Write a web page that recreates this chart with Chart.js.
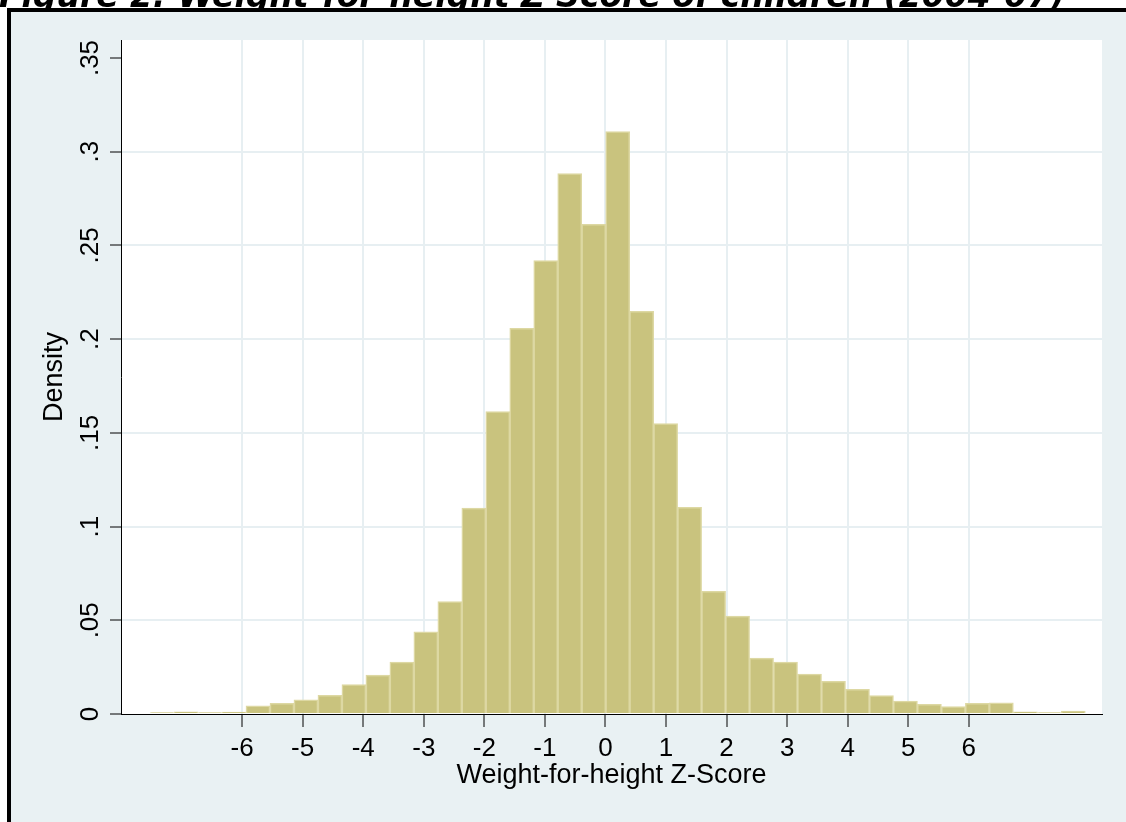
<!DOCTYPE html>
<html lang="en">
<head>
<meta charset="UTF-8">
<title>Weight-for-height Z-Score of children</title>
<script src="https://cdn.jsdelivr.net/npm/chart.js@4.4.0/dist/chart.umd.min.js"></script>
<style>
  html, body { margin: 0; padding: 0; background: #fff; overflow: hidden; }
  #wrap { width: 1126px; height: 822px; }
</style>
</head>
<body>
<div id="wrap"><canvas id="histo" width="1126" height="822"></canvas></div>
<script>
// histogram bins, stata style: first edge + bin width
const binStart = -7.52;
const binWidth = 0.396;
const density = [
  0.0008, 0.0012, 0.0008, 0.0010, 0.0043, 0.0057, 0.0075, 0.0100, 0.0157, 0.0208,
  0.0277, 0.0438, 0.0600, 0.1099, 0.1613, 0.2058, 0.2419, 0.2883, 0.2613, 0.3107,
  0.2149, 0.1549, 0.1103, 0.0655, 0.0523, 0.0299, 0.0277, 0.0213, 0.0174, 0.0132,
  0.0098, 0.0069, 0.0052, 0.0039, 0.0057, 0.0060, 0.0012, 0.0007, 0.0016
];
const xTickValues = [-6, -5, -4, -3, -2, -1, 0, 1, 2, 3, 4, 5, 6];
const xTickLabels = ['-6', '-5', '-4', '-3', '-2', '-1', '0', '1', '2', '3', '4', '5', '6'];
const yTickValues = [0, 0.05, 0.1, 0.15, 0.2, 0.25, 0.3, 0.35];
const yTickLabels = ['0', '.05', '.1', '.15', '.2', '.25', '.3', '.35'];
const figTitle = 'Figure 2: Weight-for-height Z-Score of children (2004-07)';
const xTitle = 'Weight-for-height Z-Score';
const yTitle = 'Density';

const family = '"Liberation Sans", Arial, sans-serif';
const gridColor = '#e7eff2';
const barFill = '#c9c37e';
const barEdge = '#ddd8a3';

// outer region, cut-off title, black frame, white plot area
const backdrop = {
  id: 'backdrop',
  beforeDraw(chart) {
    const ctx = chart.ctx;
    const a = chart.chartArea;
    ctx.save();
    ctx.fillStyle = '#fff';
    ctx.fillRect(0, 0, chart.width, chart.height);
    ctx.fillStyle = '#000';
    ctx.font = 'italic bold 33px "DejaVu Sans"';
    ctx.textBaseline = 'alphabetic';
    ctx.textAlign = 'left';
    ctx.fillText(figTitle, -1, 7);
    ctx.fillStyle = '#e9f1f3';
    ctx.fillRect(7, 8, chart.width, chart.height);
    ctx.fillStyle = '#000';
    ctx.fillRect(7, 8, chart.width, 4);
    ctx.fillRect(7, 8, 4, chart.height);
    ctx.fillStyle = '#fff';
    ctx.fillRect(a.left, a.top, a.right - a.left, a.bottom - a.top);
    ctx.restore();
  }
};

const ctx = document.getElementById('histo').getContext('2d');
const chart = new Chart(ctx, {
  type: 'bar',
  data: {
    datasets: [{
      label: yTitle,
      data: density.map((d, i) => ({ x: binStart + binWidth * (i + 0.5), y: d })),
      backgroundColor: barFill,
      borderColor: barEdge,
      borderWidth: 1.5,
      barPercentage: 1,
      categoryPercentage: 1
    }]
  },
  options: {
    responsive: false,
    animation: false,
    devicePixelRatio: 1,
    layout: { padding: { left: 0, top: 40, right: 24, bottom: 0 } },
    plugins: {
      legend: { display: false },
      tooltip: { enabled: false },
      title: { display: false }
    },
    scales: {
      x: {
        type: 'linear',
        min: -8.0,
        max: 8.2,
        offset: false,
        afterBuildTicks: s => { s.ticks = xTickValues.map(v => ({ value: v })); },
        afterFit: s => { s.height = 108; },
        grid: { offset: false, color: gridColor, lineWidth: 2, drawTicks: true, tickLength: 13, tickColor: '#000', tickWidth: 1 },
        border: { display: true, color: '#000', width: 1 },
        ticks: {
          autoSkip: false, maxRotation: 0, padding: 6, color: '#000',
          font: { family: family, size: 26 },
          callback: (v, i) => xTickLabels[i]
        },
        title: { display: true, text: xTitle, color: '#000', font: { family: family, size: 27 }, padding: { top: 0, bottom: 30 } }
      },
      y: {
        min: 0,
        max: 0.3596,
        afterBuildTicks: s => { s.ticks = yTickValues.map(v => ({ value: v })); },
        afterFit: s => { s.width = 121; },
        grid: {
          color: c => (c.tick && c.tick.value > 0 && c.tick.value < 0.34) ? gridColor : 'rgba(0,0,0,0)',
          lineWidth: 2, drawTicks: true, tickLength: 11, tickColor: '#000', tickWidth: 1
        },
        border: { display: true, color: '#000', width: 1 },
        ticks: {
          minRotation: 90, maxRotation: 90, crossAlign: 'center', padding: 1, color: '#000',
          font: { family: family, size: 26 },
          callback: (v, i) => yTickLabels[i]
        },
        title: { display: true, text: yTitle, color: '#000', font: { family: family, size: 27 }, padding: { top: 38, bottom: 0 } }
      }
    }
  },
  plugins: [backdrop]
});
</script>
</body>
</html>
